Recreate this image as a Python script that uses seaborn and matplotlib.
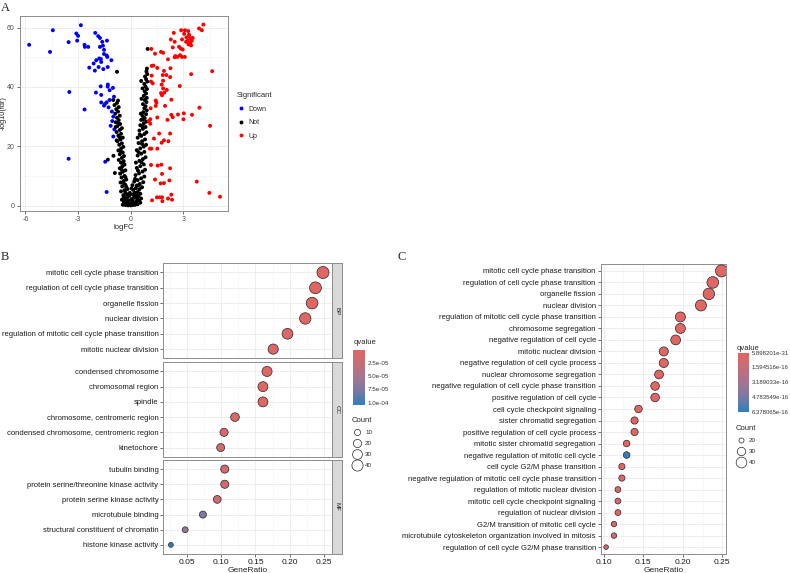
import numpy as np
import pandas as pd
import matplotlib
matplotlib.use('Agg')
import matplotlib.pyplot as plt
import seaborn as sns
from matplotlib.colors import LinearSegmentedColormap, Normalize
from matplotlib.lines import Line2D
from matplotlib.cm import ScalarMappable

sns.set_style('white')
plt.rcParams['font.family'] = ['Liberation Sans', 'DejaVu Sans']
plt.rcParams['axes.unicode_minus'] = False

# ---------------- panel A: volcano points (logFC, -log10(fdr)) ----------------
down_pts = [(-5.79, 54.2), (-4.44, 59.1), (-4.6, 51.8), (-3.54, 55.1), (-3.5, 38.3), (-3.54, 15.8),
            (-2.84, 60.8), (-3.1, 58.0), (-3.0, 57.2), (-3.05, 55.6), (-2.63, 54.2), (-2.61, 53.5),
            (-2.42, 53.5), (-2.63, 32.4), (-2.02, 58.2), (-1.85, 57.1), (-1.75, 56.5), (-1.62, 55.2),
            (-1.35, 55.6), (-1.75, 53.5), (-1.58, 53.9), (-1.52, 52.5), (-1.52, 51.1), (-1.37, 50.6),
            (-1.33, 50.1), (-1.1, 49.0), (-1.79, 49.6), (-1.96, 49.0), (-1.68, 48.4), (-1.7, 49.4),
            (-2.11, 47.9), (-2.36, 46.5), (-2.04, 45.5), (-1.83, 46.7), (-1.56, 46.0), (-1.31, 46.7),
            (-1.3, 40.8), (-1.31, 40.1), (-1.01, 39.7), (-1.71, 40.2), (-1.98, 38.1), (-1.68, 37.3),
            (-1.2, 38.9), (-1.2, 35.6), (-0.95, 36.7), (-1.68, 34.8), (-1.52, 33.7), (-1.37, 34.8),
            (-1.47, 34.2), (-1.26, 33.1), (-1.07, 31.7), (-0.99, 30.0), (-1.05, 28.5), (-1.14, 26.9),
            (-0.93, 25.7), (-0.99, 23.3), (-1.45, 14.8), (-1.37, 4.6)]
up_pts = [(4.15, 61.0), (3.9, 59.7), (4.06, 59.1), (2.46, 58.2), (2.88, 59.1), (3.1, 59.1), (3.28, 58.8),
          (3.05, 57.9), (3.33, 57.6), (3.18, 56.7), (3.35, 56.9), (3.43, 56.3), (3.54, 56.5), (3.26, 55.6),
          (3.48, 55.5), (3.16, 55.2), (3.39, 54.8), (3.3, 54.3), (3.45, 54.0), (2.93, 56.0), (2.29, 56.0),
          (2.51, 55.2), (2.4, 53.3), (2.76, 53.5), (2.86, 52.9), (2.97, 52.6), (1.18, 52.8), (1.73, 51.8),
          (1.85, 51.5), (1.39, 51.2), (2.13, 49.3), (2.55, 50.4), (2.67, 50.1), (2.82, 50.7), (2.93, 50.1),
          (3.09, 50.1), (2.51, 50.0), (1.2, 47.1), (1.3, 47.2), (1.52, 46.4), (1.9, 45.4), (2.04, 44.0),
          (2.27, 46.3), (1.83, 44.0), (1.2, 43.8), (3.45, 44.3), (4.65, 45.3), (2.25, 43.3), (1.16, 41.8),
          (1.85, 42.1), (1.26, 41.2), (1.77, 40.8), (2.8, 40.3), (1.85, 39.5), (2.06, 39.0), (1.73, 37.9),
          (1.92, 38.1), (1.79, 37.2), (2.32, 35.7), (1.43, 35.4), (1.47, 34.7), (1.43, 33.6), (1.96, 33.6),
          (3.92, 33.0), (1.14, 32.8), (3.03, 31.1), (3.5, 30.6), (2.7, 30.7), (2.32, 30.6), (2.4, 29.8),
          (2.1, 28.9), (1.52, 29.7), (1.12, 29.1), (3.01, 29.1), (1.03, 28.5), (1.12, 27.6), (4.53, 26.9),
          (1.63, 24.3), (2.25, 24.3), (1.33, 22.6), (1.9, 22.0), (1.77, 21.2), (2.15, 21.7), (1.1, 19.2),
          (1.18, 19.2), (1.52, 19.2), (1.16, 13.7), (1.54, 13.5), (1.75, 13.8), (2.25, 12.6), (1.79, 10.7),
          (1.39, 8.8), (1.71, 7.5), (1.9, 7.6), (2.21, 8.5), (3.77, 8.1), (4.49, 4.3), (5.1, 3.0), (2.32, 3.7),
          (1.5, 2.8), (1.66, 2.8), (1.79, 2.8), (1.22, 1.8), (1.81, 1.5), (2.13, 2.4), (2.36, 2.0)]
not_pts = [(-0.45, 0.3), (-0.3, 0.2), (-0.15, 0.1), (0.0, 0.1), (0.12, 0.2), (0.25, 0.3), (0.4, 0.5), (0.55, 1.0),
           (-0.38, 1.2), (-0.22, 0.9), (-0.05, 0.8), (0.08, 0.9), (0.2, 1.1), (0.33, 1.4), (0.48, 1.8),
           (-0.5, 2.0), (-0.32, 2.3), (-0.12, 1.8), (0.05, 2.2), (0.18, 2.6), (0.3, 2.9), (0.45, 3.2), (0.6, 2.4),
           (-0.42, 3.5), (-0.25, 3.9), (-0.08, 3.3), (0.12, 3.8), (0.25, 4.3), (0.4, 4.6), (0.55, 4.0),
           (-0.55, 4.8), (-0.35, 5.2), (-0.18, 5.6), (0.15, 5.3), (0.3, 5.9), (0.5, 5.5), (0.65, 6.2),
           (-0.2, 0.4), (0.32, 0.7), (-0.28, 1.5), (0.1, 1.5), (0.38, 2.1), (-0.4, 2.8), (-0.2, 2.9), (0.22, 3.3),
           (-0.05, 4.3), (0.35, 3.7), (-0.3, 4.4), (0.05, 5.8), (0.45, 6.8), (-0.25, 6.3), (0.1, 6.9),
           (-0.48, 6.5), (-0.3, 7.0), (-0.58, 7.8), (-0.4, 8.3), (-0.25, 8.8), (-0.52, 9.5), (-0.35, 10.0),
           (-0.6, 10.8), (-0.45, 11.4), (-0.3, 11.9), (-0.62, 12.6), (-0.48, 13.2), (-0.35, 13.8), (-0.55, 14.5),
           (-0.4, 15.0), (-0.68, 15.4), (-0.5, 16.1), (-0.38, 16.7), (-0.62, 17.3), (-0.45, 17.9), (-0.7, 18.6),
           (-0.55, 19.2), (-0.42, 19.8), (-0.65, 20.5), (-0.5, 21.0), (-0.75, 21.7), (-0.58, 22.3), (-0.45, 22.9),
           (-0.7, 23.6), (-0.55, 24.2), (-0.8, 24.8), (-0.62, 25.5), (-0.5, 26.1), (-0.75, 26.8), (-0.6, 27.5),
           (-0.85, 28.1), (-0.68, 28.8), (-0.78, 29.6), (-0.62, 30.3), (-0.88, 31.0), (-0.72, 31.7), (-0.82, 32.5),
           (-0.68, 33.2), (-0.92, 33.9), (-0.78, 34.6), (-0.99, 35.6), (-0.72, 35.4), (-0.78, 45.1),
           (-1.3, 15.5), (-0.9, 11.0), (-0.98, 16.8), (-0.8, 22.0), (-0.85, 26.5),
           (-0.38, 7.4), (-0.5, 12.0), (-0.55, 18.2), (-0.62, 23.0), (-0.7, 27.9), (-0.3, 9.6), (-0.42, 14.2),
           (0.35, 6.8), (0.52, 7.3), (0.72, 7.9), (0.2, 8.1), (0.4, 8.6), (0.6, 9.2), (0.78, 9.8), (0.28, 10.3),
           (0.48, 10.9), (0.68, 11.5), (0.82, 12.1), (0.35, 12.7), (0.55, 13.3), (0.75, 13.9), (0.3, 14.5),
           (0.5, 15.1), (0.7, 15.7), (0.85, 16.3), (0.4, 16.9), (0.6, 17.5), (0.78, 18.1), (0.35, 18.7), (0.55, 19.3),
           (0.75, 19.9), (0.88, 20.5), (0.45, 21.1), (0.65, 21.7), (0.82, 22.3), (0.4, 22.9), (0.6, 23.5),
           (0.78, 24.1), (0.9, 24.7), (0.5, 25.3), (0.7, 25.9), (0.85, 26.5), (0.55, 27.1), (0.75, 27.7),
           (0.9, 28.3), (0.6, 28.9), (0.8, 29.5), (0.68, 30.2), (0.88, 30.8), (0.72, 31.5), (0.92, 32.1),
           (0.78, 32.8), (0.85, 33.5), (0.7, 34.2), (0.9, 34.9), (0.8, 35.6), (0.92, 36.3), (0.75, 37.0),
           (0.88, 37.8), (0.8, 38.5), (0.93, 39.3), (0.85, 40.1), (0.78, 41.0), (0.95, 41.8), (0.88, 42.6),
           (0.82, 43.5), (0.95, 44.3), (0.9, 45.2), (0.93, 46.2), (0.97, 52.8), (0.6, 42.0), (0.68, 39.5),
           (0.62, 36.0), (0.25, 9.0), (0.42, 11.8), (0.62, 14.6), (0.45, 18.0), (0.65, 20.8), (0.52, 24.0),
           (0.65, 26.8), (0.72, 29.0), (0.58, 31.0)]

# ---------------- panel B: GO enrichment (BP / CC / MF) ----------------
b_terms = ['mitotic cell cycle phase transition', 'regulation of cell cycle phase transition',
           'organelle fission', 'nuclear division', 'regulation of mitotic cell cycle phase transition',
           'mitotic nuclear division',
           'condensed chromosome', 'chromosomal region', 'spindle', 'chromosome, centromeric region',
           'condensed chromosome, centromeric region', 'kinetochore',
           'tubulin binding', 'protein serine/threonine kinase activity', 'protein serine kinase activity',
           'microtubule binding', 'structural constituent of chromatin', 'histone kinase activity']
b_ontology = ['BP'] * 6 + ['CC'] * 6 + ['MF'] * 6
b_ratio = [0.249, 0.238, 0.233, 0.223, 0.197, 0.176,
           0.167, 0.161, 0.161, 0.120, 0.104, 0.099,
           0.105, 0.105, 0.094, 0.073, 0.047, 0.026]
b_count = [47, 45, 44, 42, 37, 33,
           32, 31, 31, 23, 20, 19,
           20, 20, 18, 14, 9, 5]
b_qvalue = [1.5e-6, 2.0e-6, 2.0e-6, 3.0e-6, 5.0e-6, 6.0e-6,
            2.0e-6, 3.0e-6, 3.0e-6, 8.0e-6, 1.2e-5, 1.5e-5,
            1.5e-5, 1.8e-5, 2.2e-5, 7.6e-5, 6.2e-5, 1.043e-4]

# ---------------- panel C: GO BP enrichment ----------------
c_terms = ['mitotic cell cycle phase transition', 'regulation of cell cycle phase transition',
           'organelle fission', 'nuclear division', 'regulation of mitotic cell cycle phase transition',
           'chromosome segregation', 'negative regulation of cell cycle', 'mitotic nuclear division',
           'negative regulation of cell cycle process', 'nuclear chromosome segregation',
           'negative regulation of cell cycle phase transition', 'positive regulation of cell cycle',
           'cell cycle checkpoint signaling', 'sister chromatid segregation',
           'positive regulation of cell cycle process', 'mitotic sister chromatid segregation',
           'negative regulation of mitotic cell cycle', 'cell cycle G2/M phase transition',
           'negative regulation of mitotic cell cycle phase transition', 'regulation of mitotic nuclear division',
           'mitotic cell cycle checkpoint signaling', 'regulation of nuclear division',
           'G2/M transition of mitotic cell cycle', 'microtubule cytoskeleton organization involved in mitosis',
           'regulation of cell cycle G2/M phase transition']
c_ratio = [0.249, 0.238, 0.233, 0.223, 0.197, 0.197, 0.191, 0.176, 0.176, 0.170, 0.165, 0.165,
           0.144, 0.139, 0.139, 0.129, 0.129, 0.123, 0.123, 0.118, 0.118, 0.118, 0.113, 0.113, 0.103]
c_count = [47, 45, 44, 42, 37, 37, 36, 33, 33, 32, 31, 31,
           27, 26, 26, 24, 24, 23, 23, 22, 22, 22, 21, 21, 19]
c_qvalue = [5.898201e-31, 2e-30, 4e-30, 1e-29, 3e-26, 5e-26, 1e-25, 2e-23, 3e-23, 8e-23, 2e-22, 3e-22,
            5e-20, 1e-19, 2e-19, 4e-18, 6.378065e-16, 1e-17, 1.5e-17, 2e-17, 3e-17, 3e-17, 4e-17,
            1.1e-16, 4e-17]

W, H = 790, 573
fig = plt.figure(figsize=(7.9, 5.73), dpi=100)


def box(l, t, r, b):
    return [l / W, 1 - b / H, (r - l) / W, (b - t) / H]


grid_major = dict(color='#EBEBEB', lw=0.6)
grid_minor = dict(color='#F4F4F4', lw=0.4)
frame_col = '#8C8C8C'
go_cmap = LinearSegmentedColormap.from_list('go', ['#e06663', '#c46e78', '#a5758f', '#7879a5', '#327eba'])


def style_frame(ax):
    for sp in ax.spines.values():
        sp.set_color(frame_col)
        sp.set_linewidth(0.7)
    ax.set_axisbelow(True)


# ---------------- A ----------------
rows = [(x, y, 'Down') for x, y in down_pts] + [(x, y, 'Not') for x, y in not_pts] + \
       [(x, y, 'Up') for x, y in up_pts]
volcano = pd.DataFrame(rows, columns=['logFC', 'nlogfdr', 'Significant'])
sig_colors = {'Down': '#0000FF', 'Not': '#000000', 'Up': '#FF0000'}

ax_a = fig.add_axes(box(19.5, 16, 228.3, 210.7))
sns.scatterplot(data=volcano, x='logFC', y='nlogfdr', hue='Significant', palette=sig_colors,
                s=8, linewidth=0, ax=ax_a, legend=False)
ax_a.set_xlim(-6.34, 5.57)
ax_a.set_ylim(-1.7, 63.9)
ax_a.set_xticks([-6, -3, 0, 3])
ax_a.set_yticks([0, 20, 40, 60])
ax_a.set_xticks([-4.5, -1.5, 1.5, 4.5], minor=True)
ax_a.set_yticks([10, 30, 50], minor=True)
ax_a.grid(which='major', **grid_major)
ax_a.grid(which='minor', **grid_minor)
ax_a.tick_params(which='major', labelsize=5, labelcolor='#4D4D4D', length=2, width=0.5,
                 color='#333333', pad=1.5, left=True, bottom=True)
ax_a.tick_params(which='minor', length=0)
ax_a.set_xlabel('logFC', fontsize=5.5, labelpad=1)
ax_a.set_ylabel('-log10(fdr)', fontsize=5.3)
ax_a.yaxis.set_label_coords(-0.061, 0.5)
style_frame(ax_a)

sig_handles = [Line2D([], [], ls='', marker='o', markersize=2.8, markerfacecolor=c, markeredgewidth=0)
               for c in sig_colors.values()]
leg_a = fig.legend(sig_handles, list(sig_colors.keys()), title='Significant', loc='upper left',
                   bbox_to_anchor=(237 / W, 1 - 92 / H), frameon=False, fontsize=5, title_fontsize=5.5,
                   labelspacing=0.95, handletextpad=0.5, handlelength=1.2, borderpad=0, borderaxespad=0)
leg_a._legend_box.align = 'left'

# ---------------- B ----------------
go_b = pd.DataFrame({'ONTOLOGY': b_ontology, 'Description': b_terms, 'GeneRatio': b_ratio,
                     'Count': b_count, 'qvalue': b_qvalue})
norm_b = Normalize(vmin=1.2e-6, vmax=1.043e-4)
sizes_b = (12, 75)
size_norm_b = (5, 47)
facets = {'BP': (263.3, 358.3), 'CC': (362.3, 456.7), 'MF': (460, 554)}
for ont, (top, bot) in facets.items():
    ax = fig.add_axes(box(163.3, top, 331.5, bot))
    sub = go_b[go_b['ONTOLOGY'] == ont]
    sns.scatterplot(data=sub, x='GeneRatio', y='Description', hue='qvalue', palette=go_cmap,
                    hue_norm=norm_b, size='Count', sizes=sizes_b, size_norm=size_norm_b,
                    edgecolor='#262626', linewidth=0.5, ax=ax, legend=False, zorder=3)
    n = len(sub)
    ax.set_ylim(n - 0.4, -0.6)
    ax.set_xlim(0.0149, 0.2615)
    ax.set_xticks([0.05, 0.10, 0.15, 0.20, 0.25])
    ax.set_xticks([0.025, 0.075, 0.125, 0.175, 0.225], minor=True)
    ax.grid(which='major', **grid_major)
    ax.grid(which='minor', axis='x', **grid_minor)
    ax.tick_params(which='major', axis='y', labelsize=5.5, labelcolor='#1A1A1A', length=2, width=0.5,
                   color='#333333', pad=1.5, left=True)
    ax.tick_params(which='minor', length=0)
    ax.set_ylabel('')
    if ont == 'MF':
        ax.set_xticklabels(['0.05', '0.10', '0.15', '0.20', '0.25'])
        ax.tick_params(which='major', axis='x', labelsize=6, labelcolor='#1A1A1A', length=2, width=0.5,
                       color='#333333', pad=1.5, bottom=True)
        ax.set_xlabel('GeneRatio', fontsize=6, labelpad=0.5)
    else:
        ax.tick_params(axis='x', labelbottom=False, bottom=False)
        ax.set_xlabel('')
    style_frame(ax)
    strip = fig.add_axes(box(331.7, top, 342.3, bot))
    strip.set_facecolor('#D9D9D9')
    strip.set_xticks([])
    strip.set_yticks([])
    style_frame(strip)
    strip.text(0.5, 0.5, ont, rotation=270, ha='center', va='center', fontsize=4.5, color='#1A1A1A',
               transform=strip.transAxes)

cax_b = fig.add_axes(box(353.3, 350, 365, 405))
cb_b = fig.colorbar(ScalarMappable(norm=norm_b, cmap=go_cmap), cax=cax_b)
cax_b.invert_yaxis()
cb_b.set_ticks([2.5e-5, 5.0e-5, 7.5e-5, 1.0e-4])
cb_b.set_ticklabels(['2.5e-05', '5.0e-05', '7.5e-05', '1.0e-04'])
cb_b.outline.set_visible(False)
cax_b.tick_params(labelsize=4.5, labelcolor='#333333', length=2.5, width=0.5, color='white',
                  direction='in', pad=2)
fig.text(354 / W, 1 - 343 / H, 'qvalue', fontsize=5.5, va='center', ha='left')


def size_of(c, sizes, snorm):
    return sizes[0] + (c - snorm[0]) / (snorm[1] - snorm[0]) * (sizes[1] - sizes[0])


count_breaks_b = [10, 20, 30, 40]
hb = [Line2D([], [], ls='', marker='o', markersize=np.sqrt(size_of(c, sizes_b, size_norm_b)),
             markerfacecolor='white', markeredgecolor='#262626', markeredgewidth=0.5)
      for c in count_breaks_b]
leg_b = fig.legend(hb, [str(c) for c in count_breaks_b], title='Count', loc='upper left',
                   bbox_to_anchor=(352 / W, 1 - 417 / H), frameon=False, fontsize=4.5, title_fontsize=5.5,
                   labelspacing=0.9, handletextpad=0.5, handlelength=1.6, borderpad=0, borderaxespad=0)
leg_b._legend_box.align = 'left'

# ---------------- C ----------------
go_c = pd.DataFrame({'Description': c_terms, 'GeneRatio': c_ratio, 'Count': c_count, 'qvalue': c_qvalue})
norm_c = Normalize(vmin=5.898201e-31, vmax=6.378065e-16)
sizes_c = (11, 75)
size_norm_c = (19, 47)
ax_c = fig.add_axes(box(600.7, 264, 726, 554))
sns.scatterplot(data=go_c, x='GeneRatio', y='Description', hue='qvalue', palette=go_cmap,
                hue_norm=norm_c, size='Count', sizes=sizes_c, size_norm=size_norm_c,
                edgecolor='#262626', linewidth=0.5, ax=ax_c, legend=False, zorder=3)
ax_c.set_ylim(len(c_terms) - 0.4, -0.6)
ax_c.set_xlim(0.0962, 0.2547)
ax_c.set_xticks([0.10, 0.15, 0.20, 0.25])
ax_c.set_xticklabels(['0.10', '0.15', '0.20', '0.25'])
ax_c.set_xticks([0.125, 0.175, 0.225], minor=True)
ax_c.grid(which='major', **grid_major)
ax_c.grid(which='minor', axis='x', **grid_minor)
ax_c.tick_params(which='major', axis='y', labelsize=5.5, labelcolor='#1A1A1A', length=2, width=0.5,
                 color='#333333', pad=1.5, left=True)
ax_c.tick_params(which='major', axis='x', labelsize=6, labelcolor='#1A1A1A', length=2, width=0.5,
                 color='#333333', pad=1.5, bottom=True)
ax_c.tick_params(which='minor', length=0)
ax_c.set_ylabel('')
ax_c.set_xlabel('GeneRatio', fontsize=6, labelpad=0.5)
style_frame(ax_c)

cax_c = fig.add_axes(box(737.7, 352.7, 749.3, 411.7))
cb_c = fig.colorbar(ScalarMappable(norm=norm_c, cmap=go_cmap), cax=cax_c)
cax_c.invert_yaxis()
c_breaks = np.linspace(5.898201e-31, 6.378065e-16, 5)
cb_c.set_ticks(c_breaks)
cb_c.set_ticklabels(['5.898201e-31', '1.594516e-16', '3.189033e-16', '4.783549e-16', '6.378065e-16'])
cb_c.outline.set_visible(False)
cax_c.tick_params(labelsize=4.3, labelcolor='#333333', length=2.5, width=0.5, color='white',
                  direction='in', pad=1.5)
fig.text(737 / W, 1 - 348 / H, 'qvalue', fontsize=5.5, va='center', ha='left')

count_breaks_c = [20, 30, 40]
hc = [Line2D([], [], ls='', marker='o', markersize=np.sqrt(size_of(c, sizes_c, size_norm_c)),
             markerfacecolor='white', markeredgecolor='#262626', markeredgewidth=0.5)
      for c in count_breaks_c]
leg_c = fig.legend(hc, [str(c) for c in count_breaks_c], title='Count', loc='upper left',
                   bbox_to_anchor=(736 / W, 1 - 425 / H), frameon=False, fontsize=4.5, title_fontsize=5.5,
                   labelspacing=0.9, handletextpad=0.5, handlelength=1.6, borderpad=0, borderaxespad=0)
leg_c._legend_box.align = 'left'

# panel letters
for lab, (px, py) in {'A': (1, 2), 'B': (1, 251), 'C': (398, 251)}.items():
    fig.text(px / W, 1 - py / H, lab, fontsize=9, family=['Liberation Serif', 'DejaVu Serif'],
             va='top', ha='left')

fig.savefig('out.png', dpi=100)
